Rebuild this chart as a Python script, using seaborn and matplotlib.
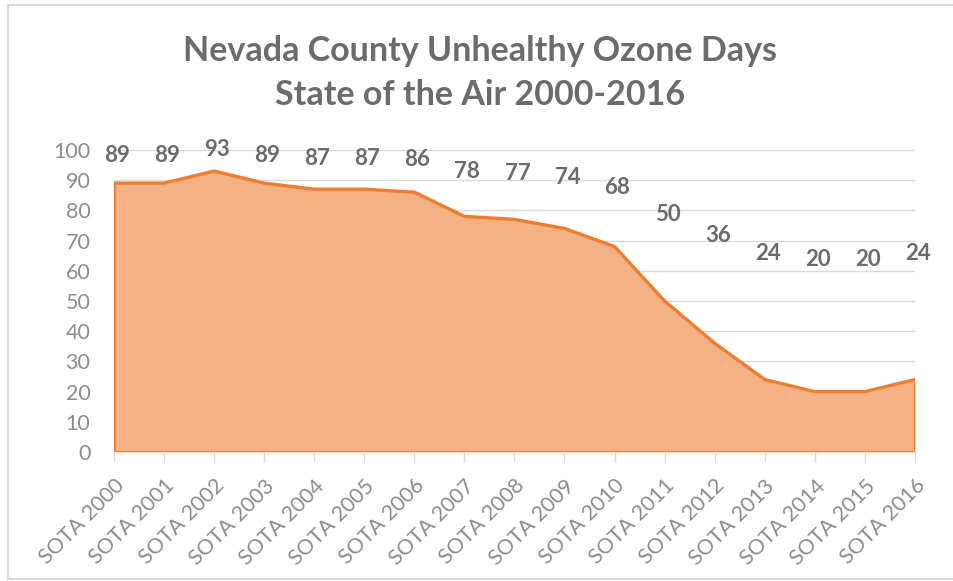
import numpy as np
import pandas as pd
import seaborn as sns
import matplotlib.pyplot as plt
from matplotlib.lines import Line2D

sns.set_theme(style='white')
plt.rcParams['font.family'] = ['Lato', 'DejaVu Sans']

# data
years = ['SOTA 2000', 'SOTA 2001', 'SOTA 2002', 'SOTA 2003', 'SOTA 2004', 'SOTA 2005',
         'SOTA 2006', 'SOTA 2007', 'SOTA 2008', 'SOTA 2009', 'SOTA 2010', 'SOTA 2011',
         'SOTA 2012', 'SOTA 2013', 'SOTA 2014', 'SOTA 2015', 'SOTA 2016']
days = [89, 89, 93, 89, 87, 87, 86, 78, 77, 74, 68, 50, 36, 24, 20, 20, 24]
yticks = [0, 10, 20, 30, 40, 50, 60, 70, 80, 90, 100]

df = pd.DataFrame({'year': years, 'days': days})
df['pos'] = range(len(df))

line_c = '#ED7D31'
fill_c = '#F4B183'
text_c = '#6B6B6B'
tick_c = '#8C8C8C'

fig = plt.figure(figsize=(9.54, 5.81), dpi=100)
ax = fig.add_axes([0.1195, 0.222, 0.8395, 0.520])

ax.fill_between(df['pos'], 0, df['days'], color=fill_c, zorder=2, lw=0)
sns.lineplot(data=df, x='pos', y='days', color=line_c, lw=2.4, ax=ax, zorder=3)
# edges of the area
ax.plot([0, 0], [0, days[0]], color=line_c, lw=2, zorder=3)
ax.plot([df['pos'].iloc[-1]] * 2, [0, days[-1]], color=line_c, lw=2, zorder=3)
ax.axhline(0, color=line_c, lw=2, zorder=3)

# data labels sit in a compressed band above the area
for p, v in zip(df['pos'], df['days']):
    ax.text(p + 0.06, 53.5 + 0.503 * v, str(v), ha='center', va='center',
            fontsize=16, fontweight='bold', color=text_c, clip_on=False, zorder=4)

ax.set_xlim(0, len(years) - 1)
ax.set_ylim(0, 100)
ax.set_yticks(yticks)
ax.set_xticks(df['pos'])
ax.set_xticklabels(years, rotation=45, ha='right', rotation_mode='anchor')
ax.tick_params(axis='y', length=0, pad=17, labelsize=15.5, labelcolor=tick_c)
ax.tick_params(axis='x', length=7, width=1, color='#D9D9D9', pad=10,
               labelsize=15.5, labelcolor=tick_c, direction='out', bottom=True)
ax.grid(axis='y', color='#D9D9D9', lw=1, zorder=0)
ax.set_axisbelow(True)
for s in ax.spines.values():
    s.set_visible(False)
ax.set_xlabel('')
ax.set_ylabel('')

fig.text(0.503, 0.913, 'Nevada County Unhealthy Ozone Days', ha='center', va='center',
         fontsize=24.5, fontweight='bold', color=text_c)
fig.text(0.503, 0.836, 'State of the Air 2000-2016', ha='center', va='center',
         fontsize=24.5, fontweight='bold', color=text_c)

# light frame around the chart
fc = '#D9D9D9'
fig.add_artist(Line2D([0.008, 0.008], [0.003, 0.991], color=fc, lw=1.5, transform=fig.transFigure))
fig.add_artist(Line2D([0.008, 1.0], [0.991, 0.991], color=fc, lw=1.5, transform=fig.transFigure))
fig.add_artist(Line2D([0.008, 1.0], [0.003, 0.003], color=fc, lw=1.5, transform=fig.transFigure))

fig.savefig('out.png', dpi=100)
